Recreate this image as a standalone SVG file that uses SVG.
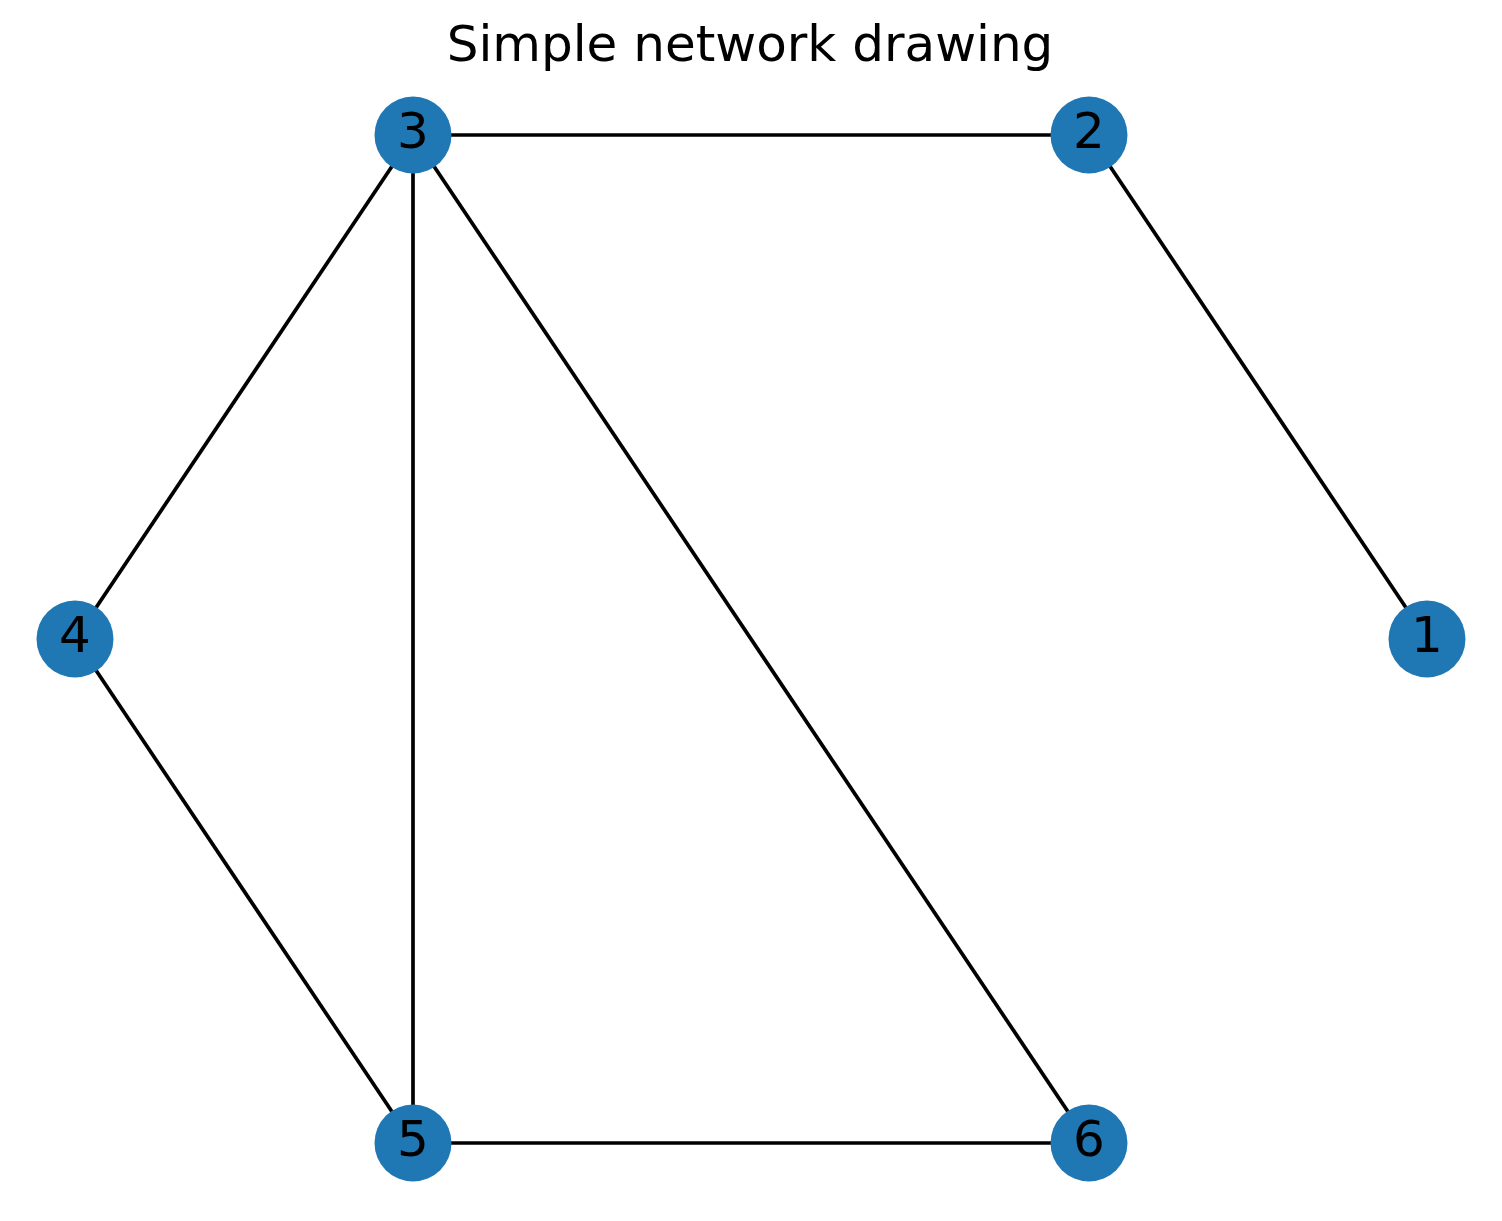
<svg xmlns="http://www.w3.org/2000/svg" width="1502" height="1221" viewBox="0 0 1502 1221">
<style>
.edge{stroke:#000;stroke-width:3.7;fill:none}
.node circle{fill:#1f77b4}
.node text{font-family:"DejaVu Sans",sans-serif;font-size:50px;fill:#000;text-anchor:middle}
.title{font-family:"DejaVu Sans",sans-serif;font-size:50px;fill:#000;text-anchor:middle}
</style>
<rect width="1502" height="1221" fill="#fff"/>
<text class="title" x="750" y="61">Simple network drawing</text>
<g id="edges">
<line class="edge" x1="413" y1="135" x2="1089" y2="135"/>
<line class="edge" x1="1089" y1="135" x2="1427" y2="639"/>
<line class="edge" x1="413" y1="135" x2="75" y2="639"/>
<line class="edge" x1="413" y1="135" x2="413" y2="1143"/>
<line class="edge" x1="413" y1="135" x2="1089" y2="1143"/>
<line class="edge" x1="75" y1="639" x2="413" y2="1143"/>
<line class="edge" x1="413" y1="1143" x2="1089" y2="1143"/>
</g>
<g id="node1" class="node"><circle cx="1427" cy="639" r="38.5"/><text x="1427" y="652">1</text></g>
<g id="node2" class="node"><circle cx="1089" cy="135" r="38.5"/><text x="1089" y="148">2</text></g>
<g id="node3" class="node"><circle cx="413" cy="135" r="38.5"/><text x="413" y="148">3</text></g>
<g id="node4" class="node"><circle cx="75" cy="639" r="38.5"/><text x="75" y="652">4</text></g>
<g id="node5" class="node"><circle cx="413" cy="1143" r="38.5"/><text x="413" y="1156">5</text></g>
<g id="node6" class="node"><circle cx="1089" cy="1143" r="38.5"/><text x="1089" y="1156">6</text></g>
</svg>
